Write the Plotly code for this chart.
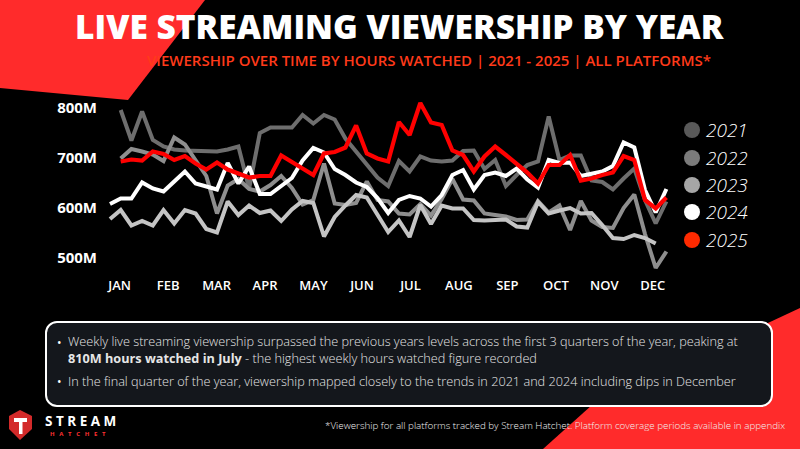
import plotly.graph_objects as go

W, H = 800, 449

# ---------------- data (weekly hours watched, millions) ----------------
years = ["2021", "2022", "2023", "2024", "2025"]
first_week = {"2021": 0, "2022": 0, "2023": -1, "2024": -1, "2025": 0}

hours_2021 = [796, 735, 793, 736, 723, 717, 715, 715, 715, 713, 717, 723, 639, 750, 761, 761,
              761, 786, 769, 786, 777, 739, 713, 686, 661, 644, 694, 673, 703, 695, 693, 695,
              714, 715, 678, 696, 644, 666, 686, 693, 783, 696, 705, 705, 655, 652, 637, 659,
              679, 616, 569, 613]
hours_2022 = [699, 718, 713, 707, 694, 741, 727, 696, 664, 589, 645, 658, 638, 633, 646, 664,
              640, 607, 616, 689, 609, 606, 610, 653, 616, 613, 589, 587, 608, 585, 618, 658,
              617, 615, 589, 586, 583, 576, 577, 614, 591, 605, 556, 614, 575, 562, 560, 600,
              627, 548, 480, 513]
hours_2023 = [578, 596, 565, 574, 565, 596, 569, 596, 589, 558, 551, 613, 586, 605, 590, 595,
              574, 597, 614, 610, 543, 582, 605, 626, 621, 588, 552, 575, 542, 606, 568, 605,
              599, 599, 576, 575, 575, 577, 563, 561, 612, 589, 595, 600, 589, 590, 566, 540,
              538, 546, 540, 529]
hours_2024 = [608, 619, 619, 651, 639, 633, 653, 673, 649, 642, 637, 690, 649, 683, 628, 628,
              645, 660, 695, 720, 711, 678, 666, 651, 642, 620, 590, 616, 624, 619, 603, 626,
              666, 676, 637, 666, 671, 664, 679, 657, 641, 696, 690, 691, 664, 669, 673, 684,
              731, 721, 636, 591, 638]
hours_2025 = [693, 697, 695, 713, 708, 696, 704, 689, 677, 691, 677, 669, 661, 664, 664, 705,
              691, 679, 666, 709, 712, 721, 765, 709, 699, 693, 772, 746, 810, 771, 766, 715,
              706, 673, 703, 723, 706, 689, 671, 649, 686, 686, 706, 655, 659, 666, 671, 704,
              696, 616, 599, 621]

series = {"2021": hours_2021, "2022": hours_2022, "2023": hours_2023,
          "2024": hours_2024, "2025": hours_2025}

month_labels = ["JAN", "FEB", "MAR", "APR", "MAY", "JUN", "JUL", "AUG", "SEP", "OCT", "NOV", "DEC"]
y_ticks = [500, 600, 700, 800]
y_tick_text = ["500M", "600M", "700M", "800M"]

# ---------------- styles ----------------
line_colors = {"2021": "#6e6e6e", "2022": "#8e8e8e", "2023": "#c4c4c4",
               "2024": "#ffffff", "2025": "#ff0000"}
legend_colors = {"2021": "#595959", "2022": "#7b7b7b", "2023": "#a6a6a6",
                 "2024": "#ffffff", "2025": "#ff2a00"}
RED = "#ff2b2b"

def px(x):
    return x / W

def py(y):
    return 1 - y / H

fig = go.Figure()

for yr in years:
    vals = series[yr]
    xs = [first_week[yr] + i for i in range(len(vals))]
    fig.add_trace(go.Scatter(
        x=xs, y=vals, mode="lines", name=yr,
        line=dict(color=line_colors[yr], width=4 if yr != "2025" else 4.2),
        hoverinfo="skip", showlegend=False))

MONTH_W = 4.53
TICK0 = -0.1
month_ticks = [TICK0 + k * MONTH_W for k in range(12)]

shapes = []
# red background decorations
shapes.append(dict(type="path", xref="paper", yref="paper", layer="below",
                   path=f"M {px(0)},{py(0)} L {px(205)},{py(0)} L {px(128)},{py(100)} L {px(0)},{py(88)} Z",
                   fillcolor=RED, line=dict(width=0)))
shapes.append(dict(type="path", xref="paper", yref="paper", layer="below",
                   path=f"M {px(543)},{py(449)} L {px(592)},{py(405)} L {px(800)},{py(308)} L {px(800)},{py(449)} Z",
                   fillcolor=RED, line=dict(width=0)))

# rounded text box
bx0, by0, bx1, by1, r = 46, 322, 772, 406, 11
def rr(x0, y0, x1, y1, r):
    k = 0.45
    pts = [
        f"M {px(x0 + r)},{py(y0)}",
        f"L {px(x1 - r)},{py(y0)}",
        f"C {px(x1 - r * k)},{py(y0)} {px(x1)},{py(y0 + r * k)} {px(x1)},{py(y0 + r)}",
        f"L {px(x1)},{py(y1 - r)}",
        f"C {px(x1)},{py(y1 - r * k)} {px(x1 - r * k)},{py(y1)} {px(x1 - r)},{py(y1)}",
        f"L {px(x0 + r)},{py(y1)}",
        f"C {px(x0 + r * k)},{py(y1)} {px(x0)},{py(y1 - r * k)} {px(x0)},{py(y1 - r)}",
        f"L {px(x0)},{py(y0 + r)}",
        f"C {px(x0)},{py(y0 + r * k)} {px(x0 + r * k)},{py(y0)} {px(x0 + r)},{py(y0)} Z",
    ]
    return " ".join(pts)

shapes.append(dict(type="path", xref="paper", yref="paper", layer="above",
                   path=rr(bx0, by0, bx1, by1, r), fillcolor="#14171c",
                   line=dict(color="#ffffff", width=2)))

# logo shield
shapes.append(dict(type="path", xref="paper", yref="paper", layer="above",
                   path=f"M {px(9)},{py(416)} L {px(20)},{py(410)} L {px(32)},{py(416)} L {px(32)},{py(429)} L {px(20)},{py(440)} L {px(9)},{py(429)} Z",
                   fillcolor="#d32a2a", line=dict(width=0)))
shapes.append(dict(type="path", xref="paper", yref="paper", layer="above",
                   path=f"M {px(14)},{py(418)} L {px(27)},{py(418)} L {px(27)},{py(422)} L {px(22.5)},{py(422)} L {px(22.5)},{py(434)} L {px(19)},{py(434)} L {px(19)},{py(422)} L {px(14)},{py(422)} Z",
                   fillcolor="#ffffff", line=dict(width=0)))

# legend circles
legend_y = [130, 158, 185, 212, 240]
for yr, ly in zip(years, legend_y):
    shapes.append(dict(type="circle", xref="paper", yref="paper",
                       x0=px(684), x1=px(700), y0=py(ly + 8), y1=py(ly - 8),
                       fillcolor=legend_colors[yr], line=dict(width=0)))

annotations = []
annotations.append(dict(xref="paper", yref="paper", x=px(400), y=py(26), xanchor="center", yanchor="middle",
                        text="LIVE STREAMING VIEWERSHIP BY YEAR", showarrow=False,
                        font=dict(family="Open Sans", size=33.5, color="#ffffff", weight=800)))
annotations.append(dict(xref="paper", yref="paper", x=px(145), y=py(60), xanchor="left", yanchor="middle",
                        text="VIEWERSHIP OVER TIME BY HOURS WATCHED | 2021 - 2025 | ALL PLATFORMS*",
                        showarrow=False,
                        font=dict(family="Open Sans", size=15, color="#ff3a1a", weight=600)))
for yr, ly in zip(years, legend_y):
    annotations.append(dict(xref="paper", yref="paper", x=px(704), y=py(ly), xanchor="left", yanchor="middle",
                            text=f"<i>{yr}</i>", showarrow=False,
                            font=dict(family="Open Sans", size=19, color="#ffffff", weight=300)))

box_font = dict(family="Open Sans", size=12.7, color="#e6e6e6", weight=300)
annotations.append(dict(xref="paper", yref="paper", x=px(55), y=py(342), xanchor="left", yanchor="middle",
                        text="•", showarrow=False, font=dict(family="Open Sans", size=12, color="#ffffff")))
annotations.append(dict(xref="paper", yref="paper", x=px(66), y=py(349.5), xanchor="left", yanchor="middle",
                        align="left", showarrow=False, font=box_font,
                        text="Weekly live streaming viewership surpassed the previous years levels across the first 3 quarters of the year, peaking at<br>"
                             "<b>810M hours watched in July</b> - the highest weekly hours watched figure recorded"))
annotations.append(dict(xref="paper", yref="paper", x=px(55), y=py(381), xanchor="left", yanchor="middle",
                        text="•", showarrow=False, font=dict(family="Open Sans", size=12, color="#ffffff")))
annotations.append(dict(xref="paper", yref="paper", x=px(66), y=py(381), xanchor="left", yanchor="middle",
                        align="left", showarrow=False, font=box_font,
                        text="In the final quarter of the year, viewership mapped closely to the trends in 2021 and 2024 including dips in December"))

annotations.append(dict(xref="paper", yref="paper", x=px(787), y=py(425), xanchor="right", yanchor="middle",
                        text="*Viewership for all platforms tracked by Stream Hatchet. Platform coverage periods available in appendix",
                        showarrow=False, font=dict(family="Open Sans", size=9.8, color="#f0f0f0", weight=300)))
annotations.append(dict(xref="paper", yref="paper", x=px(43), y=py(421), xanchor="left", yanchor="middle",
                        text="S T R E A M", showarrow=False,
                        font=dict(family="Open Sans", size=13.5, color="#ffffff", weight=700)))
annotations.append(dict(xref="paper", yref="paper", x=px(48), y=py(434), xanchor="left", yanchor="middle",
                        text="H   A   T   C   H   E   T", showarrow=False,
                        font=dict(family="Open Sans", size=6, color="#ff3030", weight=700)))

# axes mapping: x px = 120.7 + 10.7*week ; y px = 108 + (800 - v)*0.5
X_L, X_R = 100, 680
Y_T, Y_B = 90, 273
x_range = [(X_L - 120.7) / 10.7, (X_R - 120.7) / 10.7]
y_range = [800 - (Y_B - 108) * 2, 800 - (Y_T - 108) * 2]

fig.update_layout(
    width=W, height=H,
    margin=dict(l=0, r=0, t=0, b=0),
    paper_bgcolor="#000000", plot_bgcolor="rgba(0,0,0,0)",
    shapes=shapes, annotations=annotations,
    xaxis=dict(domain=[px(X_L), px(X_R)], range=x_range, showgrid=False, zeroline=False,
               showline=False, tickmode="array", tickvals=month_ticks, ticktext=month_labels,
               ticks="", tickfont=dict(family="Open Sans", size=13, color="#ffffff", weight=600),
               ticklabelstandoff=3, fixedrange=True),
    yaxis=dict(domain=[py(Y_B), py(Y_T)], range=y_range, showgrid=False, zeroline=False,
               showline=False, tickmode="array", tickvals=y_ticks, ticktext=y_tick_text,
               ticks="", tickfont=dict(family="Open Sans", size=15, color="#ffffff", weight=700),
               ticklabelstandoff=2, fixedrange=True),
    showlegend=False,
)

fig.write_html("out.html")
